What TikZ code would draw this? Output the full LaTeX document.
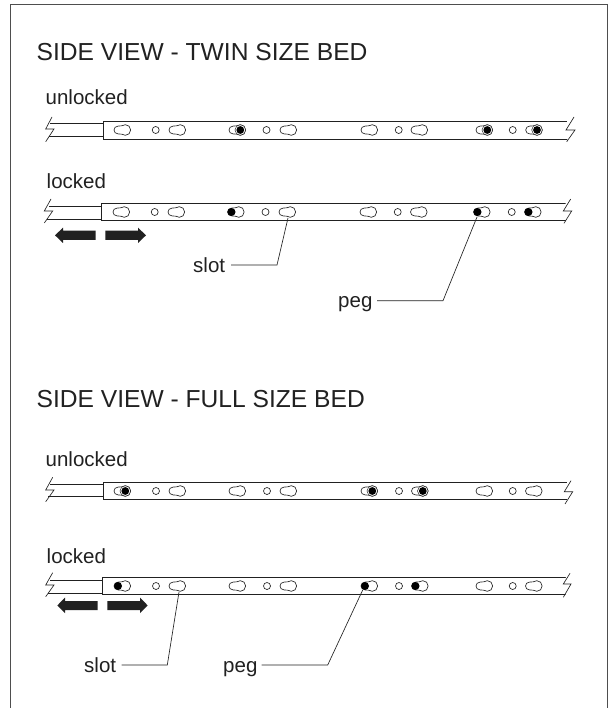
\documentclass[tikz,border=0pt]{standalone}
\usepackage{fontspec}
\setmainfont{Liberation Sans}
\definecolor{ink}{gray}{0.13}
\tikzset{
  x=1pt,y=-1pt,
  railline/.style={draw=ink,line width=0.9pt},
  thinline/.style={draw=ink,line width=0.65pt},
  title/.style={inner sep=0pt,anchor=base west,font=\fontsize{24.6}{28}\selectfont,text=ink},
  lab/.style={inner sep=0pt,anchor=base west,font=\fontsize{20.5}{24}\selectfont,text=ink},
  bigarrow/.style={fill=ink,draw=none},
}
% keyhole slot: left x #1, centre y #2
\newcommand{\slotshape}[2]{%
  \draw[thinline,fill=white] (#1+4,#2+3.9) .. controls (#1+1.7,#2+3.9) and (#1,#2+2.1) .. (#1,#2)
     .. controls (#1,#2-2.1) and (#1+1.7,#2-3.9) .. (#1+4,#2-3.9)
     .. controls (#1+5.6,#2-3.9) and (#1+6.6,#2-3.7) .. (#1+7.8,#2-4.2)
     .. controls (#1+9,#2-4.9) and (#1+10,#2-5.3) .. (#1+11.3,#2-5.3)
     .. controls (#1+14.4,#2-5.3) and (#1+16.6,#2-3) .. (#1+16.6,#2)
     .. controls (#1+16.6,#2+3) and (#1+14.4,#2+5.3) .. (#1+11.3,#2+5.3)
     .. controls (#1+10,#2+5.3) and (#1+9,#2+4.9) .. (#1+7.8,#2+4.2)
     .. controls (#1+6.6,#2+3.7) and (#1+5.6,#2+3.9) .. (#1+4,#2+3.9) -- cycle;}
\newcommand{\hole}[2]{\draw[thinline] (#1,#2) circle[radius=3.5];}
\newcommand{\pegunlocked}[2]{\slotshape{#1}{#2}\draw[draw=ink,line width=0.5pt,fill=white] (#1+11.3,#2) circle[radius=5.3];\fill[black] (#1+11.3,#2) circle[radius=3.9];}
\newcommand{\peglocked}[2]{\slotshape{#1}{#2}\fill[black] (#1+4,#2) circle[radius=4];}
\begin{document}
\begin{tikzpicture}
\useasboundingbox (0,0) rectangle (613,708);
\fill[white] (0,0) rectangle (613,708);
\draw[draw=ink!80,line width=0.8pt] (10,708) -- (10,4.3) -- (607,4.3) -- (607,708);
\node[title] (t1) at (36.5,61) {SIDE VIEW - TWIN SIZE BED};
\node[title] (t2) at (36.5,407.5) {SIDE VIEW - FULL SIZE BED};
\node[lab] (u1) at (45.5,105) {unlocked};
\node[lab] (l1) at (46.5,189) {locked};
\node[lab] (u2) at (45.5,466.5) {unlocked};
\node[lab] (l2) at (46.5,563) {locked};
% rail 1
\draw[railline] (50,123.4) -- (103,123.4) (49,136) -- (103,136);
\draw[railline] (103,121.7) rectangle (569,139);
\fill[white] (567,115) -- (575,115) -- (575,145) -- (567.5,145) -- cycle;
\draw[thinline] (52,117) -- (45.7,129) -- (54,129) -- (45.7,141.7);
\draw[thinline] (574,117) -- (566,130) -- (575,130) -- (566.7,141.7);
\slotshape{114}{130}\hole{155.7}{130}\slotshape{169}{130}
\pegunlocked{229}{130}\hole{266.5}{130}\slotshape{280}{130}
\slotshape{361}{130}\hole{398.7}{130}\slotshape{411}{130}
\pegunlocked{476}{130}\hole{512.7}{130}\pegunlocked{525.7}{130}
% rail 2
\draw[railline] (49,206.7) -- (101.7,206.7) (47,219.4) -- (101.7,219.4);
\draw[railline] (101.7,203.3) rectangle (567.7,220.3);
\fill[white] (565.6,197) -- (573,197) -- (573,226) -- (566,226) -- cycle;
\draw[thinline] (51,199) -- (44.3,211) -- (52.7,211) -- (44.3,223);
\draw[thinline] (570.7,199) -- (563.3,211) -- (571.7,211) -- (564,223.3);
\slotshape{113}{212}\hole{154.7}{212}\slotshape{168}{212}
\peglocked{227.5}{212}\hole{265.5}{212}\slotshape{279}{212}
\slotshape{360}{212}\hole{397.7}{212}\slotshape{410.5}{212}
\peglocked{473.5}{212}\hole{511.7}{212}\peglocked{524.5}{212}
% rail 3
\draw[railline] (50,484.3) -- (103.3,484.3) (48,496.7) -- (103.3,496.7);
\draw[railline] (103.3,482.3) rectangle (569,499.3);
\fill[white] (567,476) -- (574,476) -- (574,506) -- (567.3,506) -- cycle;
\draw[thinline] (52.7,477.3) -- (45.7,490) -- (54,490) -- (45.7,501.7);
\draw[thinline] (571,480.7) -- (564.3,491.7) -- (572.7,491.7) -- (565,504);
\pegunlocked{114}{491}\hole{156}{491}\slotshape{169}{491}
\slotshape{229}{491}\hole{267}{491}\slotshape{280}{491}
\pegunlocked{361}{491}\hole{399}{491}\pegunlocked{411.5}{491}
\slotshape{476}{491}\hole{512.7}{491}\slotshape{525.5}{491}
% rail 4
\draw[railline] (50,580) -- (102.7,580) (48,593.3) -- (102.7,593.3);
\draw[railline] (102.7,577) rectangle (568,594.3);
\fill[white] (566,571) -- (573,571) -- (573,600) -- (565.6,600) -- cycle;
\draw[thinline] (52.7,572.7) -- (45.7,585) -- (54,585) -- (45.7,596.7);
\draw[thinline] (570,573.3) -- (563.3,584) -- (571,584) -- (563.3,597.3);
\peglocked{114}{586}\hole{156}{586}\slotshape{169}{586}
\slotshape{229}{586}\hole{267}{586}\slotshape{280}{586}
\peglocked{361}{586}\hole{399}{586}\peglocked{411.5}{586}
\slotshape{476}{586}\hole{512.7}{586}\slotshape{525.5}{586}
% arrows
\fill[bigarrow] (55,235.3) -- (63,227.7) -- (63,230.7) -- (95.7,230.7) -- (95.7,240) -- (63,240) -- (63,243) -- cycle;
\fill[bigarrow] (146,235.3) -- (138,227.7) -- (138,230.7) -- (105.3,230.7) -- (105.3,240) -- (138,240) -- (138,243) -- cycle;
\fill[bigarrow] (57.3,605.5) -- (65,597.5) -- (65,601) -- (97.7,601) -- (97.7,610) -- (65,610) -- (65,613) -- cycle;
\fill[bigarrow] (147.7,605.5) -- (140,597.5) -- (140,601) -- (107.3,601) -- (107.3,610) -- (140,610) -- (140,613) -- cycle;
% callouts
\node[lab] (s1) at (193,272) {slot};
\coordinate (s1e) at (288,218);
\draw[thinline] (231,265) -- (277,265) -- (s1e);
\node[lab] (p1) at (338,307.5) {peg};
\coordinate (p1e) at (477,217);
\draw[thinline] (377,300.7) -- (443,300.7) -- (p1e);
\node[lab] (s2) at (84,672) {slot};
\coordinate (s2e) at (179,592);
\draw[thinline] (121.7,665) -- (167.3,665) -- (s2e);
\node[lab] (p2) at (223,672) {peg};
\coordinate (p2e) at (362.7,590);
\draw[thinline] (261.7,665) -- (327.7,665) -- (p2e);
\end{tikzpicture}
\end{document}
